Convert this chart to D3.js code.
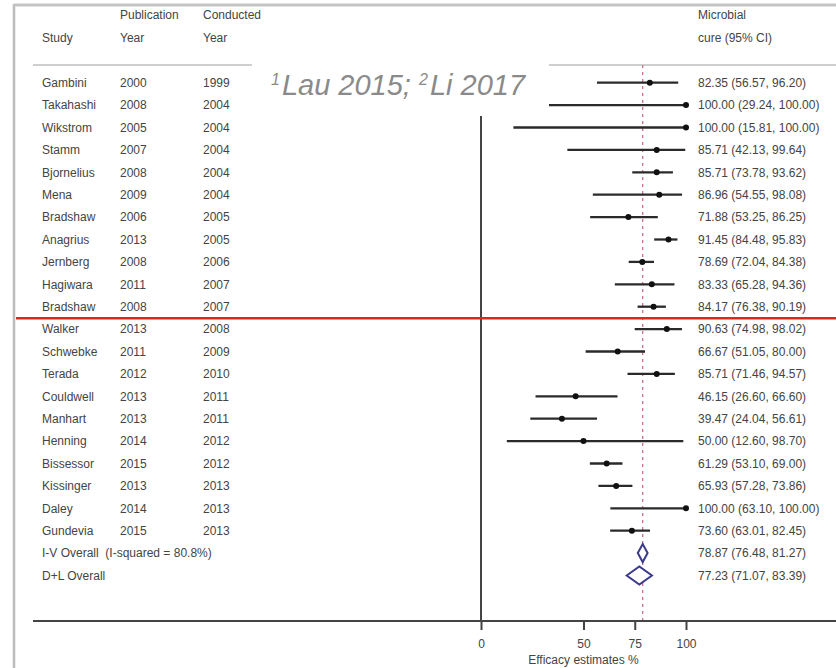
<!DOCTYPE html>
<html>
<head>
<meta charset="utf-8">
<script src="https://cdn.jsdelivr.net/npm/d3@7"></script>
<style>
  html, body { margin: 0; padding: 0; background: #fff; }
  svg { display: block; }
  text { font-family: "Liberation Sans", Arial, sans-serif; }
</style>
</head>
<body>
<svg id="chart" width="836" height="668"></svg>
<script>
// ---- Data ----
const studies = ["Gambini","Takahashi","Wikstrom","Stamm","Bjornelius","Mena","Bradshaw","Anagrius","Jernberg","Hagiwara","Bradshaw",
                 "Walker","Schwebke","Terada","Couldwell","Manhart","Henning","Bissessor","Kissinger","Daley","Gundevia"];
const pubYears  = ["2000","2008","2005","2007","2008","2009","2006","2013","2008","2011","2008",
                   "2013","2011","2012","2013","2013","2014","2015","2013","2014","2015"];
const condYears = ["1999","2004","2004","2004","2004","2004","2005","2005","2006","2007","2007",
                   "2008","2009","2010","2011","2011","2012","2012","2013","2013","2013"];
const estimates = [82.35,100.00,100.00,85.71,85.71,86.96,71.88,91.45,78.69,83.33,84.17,
                   90.63,66.67,85.71,46.15,39.47,50.00,61.29,65.93,100.00,73.60];
const lowerCI   = [56.57,29.24,15.81,42.13,73.78,54.55,53.25,84.48,72.04,65.28,76.38,
                   74.98,51.05,71.46,26.60,24.04,12.60,53.10,57.28,63.10,63.01];
const upperCI   = [96.20,100.00,100.00,99.64,93.62,98.08,86.25,95.83,84.38,94.36,90.19,
                   98.02,80.00,94.57,66.60,56.61,98.70,69.00,73.86,100.00,82.45];
const overallLabels = ["I-V Overall  (I-squared = 80.8%)","D+L Overall"];
const overallEst = [78.87, 77.23];
const overallLo  = [76.48, 71.07];
const overallHi  = [81.27, 83.39];
const tickValues = [0, 50, 75, 100];
const axisTitle = "Efficacy estimates %";
const note = ["1","Lau 2015; ","2","Li 2017"];

// ---- Layout ----
const svg = d3.select("#chart");
const W = 836, H = 668;
const x = d3.scaleLinear().domain([0, 100]).range([481, 686]);
const nRows = studies.length + overallEst.length;
const y = d3.scaleLinear().domain([0, nRows - 1]).range([82.7, 575.5]);
const fmt = d3.format(".2f");
const txtCol = "#444";
const fs = 12;
const colStudy = 42, colPub = 120, colCond = 203, colRight = 698;
const headerLineY = 65, axisY = 621, splitY = 318.3;

// frame
svg.append("line").attr("x1", 14).attr("x2", 14).attr("y1", 4).attr("y2", H)
  .attr("stroke", "#bdbdbd").attr("stroke-width", 2.5);
svg.append("line").attr("x1", 14).attr("x2", W).attr("y1", 5).attr("y2", 5)
  .attr("stroke", "#c4c4c4").attr("stroke-width", 3);

// header separator
svg.append("line").attr("x1", 33).attr("x2", W).attr("y1", headerLineY).attr("y2", headerLineY)
  .attr("stroke", "#cfcfcf").attr("stroke-width", 2);

// headers
const headers = [
  {t: "Publication", x: colPub, y: 15}, {t: "Conducted", x: colCond, y: 15}, {t: "Microbial", x: colRight, y: 15},
  {t: "Study", x: colStudy, y: 38}, {t: "Year", x: colPub, y: 38}, {t: "Year", x: colCond, y: 38}, {t: "cure (95% CI)", x: colRight, y: 38}
];
svg.append("g").selectAll("text").data(headers).join("text")
  .attr("x", d => d.x).attr("y", d => d.y).attr("dy", "0.35em")
  .attr("font-size", fs).attr("fill", txtCol).text(d => d.t);

// null line (x = 0)
svg.append("line").attr("x1", x(0)).attr("x2", x(0)).attr("y1", headerLineY).attr("y2", axisY)
  .attr("stroke", "#444").attr("stroke-width", 2);

// overall dashed line
svg.append("line").attr("x1", x(overallEst[0])).attr("x2", x(overallEst[0]))
  .attr("y1", headerLineY).attr("y2", axisY)
  .attr("stroke", "#c7708c").attr("stroke-width", 1.3).attr("stroke-dasharray", "3,4");

// study rows
const rows = studies.map((s, i) => ({s, p: pubYears[i], c: condYears[i], e: estimates[i], lo: lowerCI[i], hi: upperCI[i], i}));
const g = svg.append("g");
g.selectAll("text.study").data(rows).join("text").attr("class", "study")
  .attr("x", colStudy).attr("y", d => y(d.i)).attr("dy", "0.35em")
  .attr("font-size", fs).attr("fill", txtCol).text(d => d.s);
g.selectAll("text.pub").data(rows).join("text").attr("class", "pub")
  .attr("x", colPub).attr("y", d => y(d.i)).attr("dy", "0.35em")
  .attr("font-size", fs).attr("fill", txtCol).text(d => d.p);
g.selectAll("text.cond").data(rows).join("text").attr("class", "cond")
  .attr("x", colCond).attr("y", d => y(d.i)).attr("dy", "0.35em")
  .attr("font-size", fs).attr("fill", txtCol).text(d => d.c);
g.selectAll("text.val").data(rows).join("text").attr("class", "val")
  .attr("x", colRight).attr("y", d => y(d.i)).attr("dy", "0.35em")
  .attr("font-size", fs).attr("fill", txtCol)
  .text(d => `${fmt(d.e)} (${fmt(d.lo)}, ${fmt(d.hi)})`);
g.selectAll("line.ci").data(rows).join("line").attr("class", "ci")
  .attr("x1", d => x(d.lo)).attr("x2", d => x(d.hi))
  .attr("y1", d => y(d.i)).attr("y2", d => y(d.i))
  .attr("stroke", "#2a2a2a").attr("stroke-width", 2.3);
g.selectAll("circle.pt").data(rows).join("circle").attr("class", "pt")
  .attr("cx", d => x(d.e)).attr("cy", d => y(d.i)).attr("r", 3)
  .attr("fill", "#111");

// overall rows
const ov = overallEst.map((e, k) => ({e, lo: overallLo[k], hi: overallHi[k], lab: overallLabels[k], i: studies.length + k}));
g.selectAll("text.ovlab").data(ov).join("text").attr("class", "ovlab")
  .attr("x", colStudy).attr("y", d => y(d.i)).attr("dy", "0.35em")
  .attr("font-size", fs).attr("fill", txtCol).attr("xml:space", "preserve").text(d => d.lab);
g.selectAll("text.ovval").data(ov).join("text").attr("class", "ovval")
  .attr("x", colRight).attr("y", d => y(d.i)).attr("dy", "0.35em")
  .attr("font-size", fs).attr("fill", txtCol)
  .text(d => `${fmt(d.e)} (${fmt(d.lo)}, ${fmt(d.hi)})`);
const dh = 9;
g.selectAll("path.dia").data(ov).join("path").attr("class", "dia")
  .attr("d", d => {
    const cy = y(d.i);
    return `M${x(d.lo)},${cy}L${x(d.e)},${cy - dh}L${x(d.hi)},${cy}L${x(d.e)},${cy + dh}Z`;
  })
  .attr("fill", "#fff").attr("stroke", "#3b3b8a").attr("stroke-width", 2);

// split line (red)
svg.append("line").attr("x1", 16).attr("x2", W).attr("y1", splitY).attr("y2", splitY)
  .attr("stroke", "#e02424").attr("stroke-width", 2.5);

// x axis
svg.append("line").attr("x1", 33).attr("x2", W).attr("y1", axisY).attr("y2", axisY)
  .attr("stroke", "#444").attr("stroke-width", 2);
const axis = d3.axisBottom(x).tickValues(tickValues).tickSize(9).tickPadding(9).tickFormat(d3.format("d"));
const ag = svg.append("g").attr("transform", `translate(0,${axisY})`).call(axis);
ag.select(".domain").remove();
ag.selectAll(".tick line").attr("stroke", "#444").attr("stroke-width", 2);
ag.selectAll(".tick text").attr("font-size", fs).attr("fill", txtCol)
  .attr("font-family", '"Liberation Sans", Arial, sans-serif');
svg.append("text").attr("x", (x(0) + x(100)) / 2).attr("y", 660).attr("dy", "0.35em")
  .attr("text-anchor", "middle").attr("font-size", fs).attr("fill", txtCol).text(axisTitle);

// citation note box
svg.append("rect").attr("x", 252).attr("y", 62).attr("width", 297).attr("height", 54).attr("fill", "#fff");
const nt = svg.append("text").attr("x", 271).attr("y", 95)
  .attr("font-size", 29).attr("font-style", "italic").attr("fill", "#8a8a8a");
nt.append("tspan").attr("font-size", 16).attr("dy", -10).text(note[0]);
nt.append("tspan").attr("dx", 2).attr("dy", 10).text(note[1]);
nt.append("tspan").attr("font-size", 16).attr("dy", -10).text(note[2]);
nt.append("tspan").attr("dx", 2).attr("dy", 10).text(note[3]);
</script>
</body>
</html>
